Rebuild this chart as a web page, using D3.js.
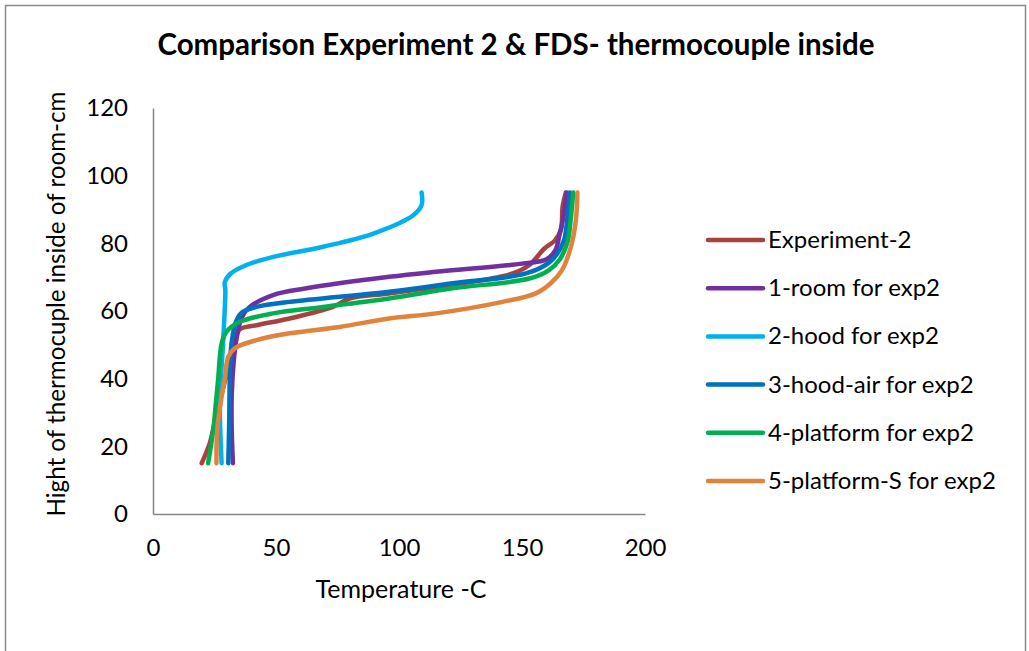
<!DOCTYPE html>
<html lang="en">
<head>
  <meta charset="utf-8">
  <title>Comparison Experiment 2 & FDS</title>
  <script src="https://cdn.jsdelivr.net/npm/d3@7"></script>
  <style>
    body { margin: 0; background: #fff; }
    text { font-family: Lato, "Open Sans", sans-serif; fill: #000; }
    .axis path { stroke: #868686; stroke-width: 1.5; }
    .axis line { display: none; }
    .axis text { font-size: 24px; }
    .series { fill: none; stroke-width: 4.5; stroke-linecap: round; stroke-linejoin: round; }
  </style>
</head>
<body>
<script>
  // [temperature C, height cm]
  var experiment2 = [[19.8, 15], [23.1, 21], [25, 27], [27, 33], [29.5, 40], [31.5, 46], [33.3, 51.4], [35.3, 54.6],
    [42.1, 55.8], [55.6, 57.8], [73.1, 61.2], [79.9, 63.7], [96, 65.2], [120, 67.6], [145, 70.8], [153, 73.6],
    [159, 78.4], [163.3, 80.8], [165.8, 84], [166.5, 90.8], [167.8, 95]];
  var room1 = [[32.5, 15], [32, 25], [32, 35], [32.8, 45], [34, 52], [36, 58], [39, 61], [48.8, 64.7], [62.4, 66.7],
    [96, 70.1], [115, 71.6], [150, 74], [160, 75.3], [163.6, 78], [165.1, 82], [167.1, 88.8], [168.2, 95]];
  var hood2 = [[27.9, 15], [27.2, 33], [28.6, 52], [29.4, 66], [29.2, 68.5], [31.5, 71], [38, 73.6], [48.9, 76],
    [69.2, 79], [89.6, 82.9], [105.8, 88.3], [109.2, 91.3], [109.2, 95]];
  var hoodAir3 = [[30.6, 15], [31, 28], [31.2, 39.6], [31.9, 50.4], [34, 57.3], [36.6, 59.8], [42.1, 61.2],
    [55.6, 62.7], [96, 65.7], [121.8, 68.2], [151.6, 71.1], [161, 74.3], [164.4, 77], [167.1, 81], [168.5, 87.8], [169.4, 95]];
  var platform4 = [[22.4, 15], [24.5, 24.8], [25.8, 34.7], [26.5, 40], [27.9, 50.4], [29.9, 53.9], [35.3, 56.8],
    [48.8, 59.3], [69.1, 61.2], [96, 63.7], [121.8, 66.7], [153, 69.6], [161, 72.1], [165.4, 75.3], [168.5, 80.4],
    [169.9, 87.8], [170.8, 95]];
  var platformS5 = [[25.8, 15], [26.1, 24.8], [27.9, 34.7], [29.2, 40], [30.6, 46.5], [33.3, 49], [42.1, 51.4],
    [55.6, 53.4], [75.9, 55.3], [96, 57.8], [115.1, 59.3], [142.1, 62.7], [155.6, 65.2], [161.7, 68.2], [166.2, 72],
    [169.9, 79], [171.9, 86.9], [172.5, 95]];

  var seriesNames = ["Experiment-2", "1-room for exp2", "2-hood for exp2", "3-hood-air for exp2",
    "4-platform for exp2", "5-platform-S for exp2"];
  var seriesData = [experiment2, room1, hood2, hoodAir3, platform4, platformS5];
  var colors = ["#A7433F", "#7030A0", "#00B0F0", "#0070C0", "#00B050", "#E0833D"];

  var xTicks = [0, 50, 100, 150, 200];
  var yTicks = [0, 20, 40, 60, 80, 100, 120];

  var w = 1029, h = 651;

  var svg = d3.select("body").append("svg")
    .attr("width", w)
    .attr("height", h);

  // chart frame
  svg.append("rect")
    .attr("x", 5.5).attr("y", 5.5)
    .attr("width", 1020).attr("height", 660)
    .attr("fill", "none")
    .attr("stroke", "#888")
    .attr("stroke-width", 1.5);

  var xScale = d3.scaleLinear().domain([0, 200]).range([153, 645]);
  var yScale = d3.scaleLinear().domain([0, 120]).range([514, 108]);

  svg.append("text")
    .attr("x", 516).attr("y", 55)
    .attr("text-anchor", "middle")
    .attr("font-size", "29.5px")
    .attr("font-weight", "bold")
    .text("Comparison Experiment 2 & FDS- thermocouple inside");

  svg.append("g")
    .attr("class", "axis")
    .attr("transform", "translate(0," + yScale(0) + ")")
    .call(d3.axisBottom(xScale).tickValues(xTicks).tickSize(0).tickPadding(25));

  svg.append("g")
    .attr("class", "axis")
    .attr("transform", "translate(" + xScale(0) + ",0)")
    .call(d3.axisLeft(yScale).tickValues(yTicks).tickSize(0).tickPadding(25));

  svg.append("text")
    .attr("x", 401).attr("y", 598)
    .attr("text-anchor", "middle")
    .attr("font-size", "25px")
    .text("Temperature -C");

  svg.append("text")
    .attr("transform", "translate(65,304) rotate(-90)")
    .attr("text-anchor", "middle")
    .attr("font-size", "24.2px")
    .text("Hight of thermocuple inside of room-cm");

  var line = d3.line()
    .x(function (d) { return xScale(d[0]); })
    .y(function (d) { return yScale(d[1]); })
    .curve(d3.curveCatmullRom.alpha(0.5));

  svg.selectAll("path.series")
    .data(seriesData)
    .enter()
    .append("path")
    .attr("class", "series")
    .attr("stroke", function (d, i) { return colors[i]; })
    .attr("d", line);

  //Legend
  var legend = svg.selectAll("g.legend")
    .data(seriesNames)
    .enter()
    .append("g")
    .attr("class", "legend")
    .attr("transform", function (d, i) { return "translate(708," + (240 + i * 48.2) + ")"; });

  legend.append("line")
    .attr("x1", 0).attr("x2", 55)
    .attr("stroke", function (d, i) { return colors[i]; })
    .attr("stroke-width", 4.5)
    .attr("stroke-linecap", "round");

  legend.append("text")
    .attr("x", 60).attr("y", 8)
    .attr("font-size", "24px")
    .text(function (d) { return d; });
</script>
</body>
</html>
